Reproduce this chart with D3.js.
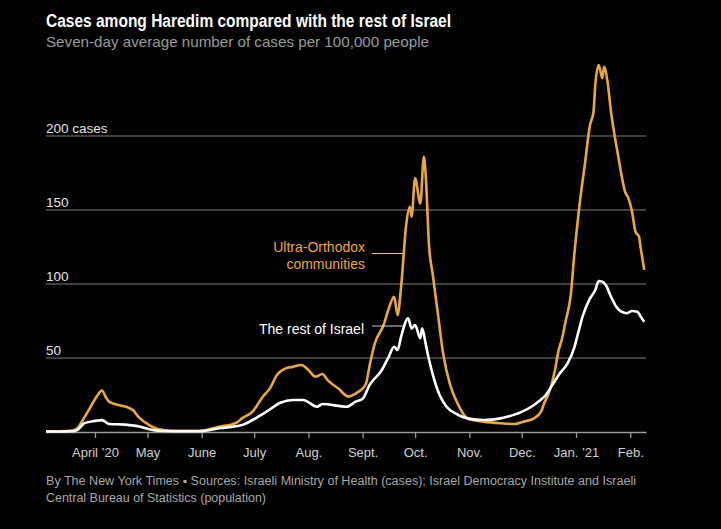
<!DOCTYPE html>
<html>
<head>
<meta charset="utf-8">
<script src="https://cdn.jsdelivr.net/npm/d3@7/dist/d3.min.js"></script>
<style>
  html, body { margin: 0; padding: 0; background: #000; }
  svg { display: block; }
</style>
</head>
<body>
<svg id="chart" width="721" height="529"></svg>
<script>
// ---------- DATA ----------
const ultraDates = ["2020-03-04","2020-03-12","2020-03-19","2020-03-22","2020-03-25","2020-03-29","2020-04-02","2020-04-05","2020-04-07","2020-04-09","2020-04-15","2020-04-19","2020-04-23","2020-04-26","2020-05-02","2020-05-07","2020-05-15","2020-05-31","2020-06-11","2020-06-21","2020-06-24","2020-06-30","2020-07-06","2020-07-10","2020-07-14","2020-07-19","2020-07-23","2020-07-28","2020-08-01","2020-08-05","2020-08-09","2020-08-12","2020-08-18","2020-08-24","2020-08-28","2020-08-31","2020-09-03","2020-09-05","2020-09-08","2020-09-13","2020-09-16","2020-09-19","2020-09-21","2020-09-23","2020-09-26","2020-09-28","2020-09-29","2020-10-01","2020-10-04","2020-10-06","2020-10-07","2020-10-09","2020-10-11","2020-10-14","2020-10-17","2020-10-21","2020-10-25","2020-10-29","2020-11-01","2020-11-09","2020-11-19","2020-11-27","2020-12-02","2020-12-08","2020-12-12","2020-12-14","2020-12-17","2020-12-20","2020-12-22","2020-12-24","2020-12-26","2020-12-29","2020-12-31","2021-01-03","2021-01-06","2021-01-09","2021-01-11","2021-01-12","2021-01-14","2021-01-16","2021-01-17","2021-01-19","2021-01-21","2021-01-23","2021-01-25","2021-01-27","2021-01-29","2021-01-31","2021-02-02","2021-02-04","2021-02-06","2021-02-07","2021-02-09"];
const ultraCases = [0.5,0.5,1.0,2.5,8,16,24,28,24,20.5,18,17,14.5,10,4.7,2,0.8,0.8,3.5,6.3,9.2,13.7,23.9,29.5,38.5,43,44,45.3,41.9,37.4,39.2,35,29.5,23.9,26,28.4,33,45,59.9,72.3,83.6,91.4,79,98.2,141,152.2,145.5,171.4,154.5,186,174.8,125.2,107.2,80.2,53.2,32,20,11.5,8.6,7,5.9,5.4,7,9.2,13.7,20,28,42,55,63,74.5,92.6,119.6,153.4,180.4,207.4,216.4,234.5,248,239,246.8,236.7,216.4,200.7,187.2,173.6,162.4,157.9,148.9,135.3,132,124.1,109.5];

const restDates = ["2020-03-04","2020-03-19","2020-03-22","2020-03-26","2020-04-01","2020-04-05","2020-04-09","2020-04-18","2020-04-27","2020-05-02","2020-05-07","2020-05-16","2020-05-31","2020-06-11","2020-06-24","2020-06-30","2020-07-08","2020-07-16","2020-07-23","2020-07-29","2020-08-06","2020-08-09","2020-08-23","2020-08-28","2020-09-01","2020-09-05","2020-09-12","2020-09-16","2020-09-19","2020-09-21","2020-09-23","2020-09-27","2020-09-29","2020-10-01","2020-10-04","2020-10-05","2020-10-07","2020-10-09","2020-10-12","2020-10-15","2020-10-19","2020-10-24","2020-10-31","2020-11-09","2020-11-19","2020-11-23","2020-11-30","2020-12-08","2020-12-11","2020-12-14","2020-12-18","2020-12-23","2020-12-27","2020-12-31","2021-01-02","2021-01-05","2021-01-09","2021-01-12","2021-01-14","2021-01-16","2021-01-18","2021-01-21","2021-01-24","2021-01-27","2021-01-30","2021-02-02","2021-02-05","2021-02-07","2021-02-09"];
const restCases = [0.3,0.5,1.5,6,7.5,8,5.4,5,3.6,1.8,0.8,0.5,0.5,2.5,4.7,8.1,13.7,19.8,21.6,21.6,17.1,18.9,17.1,20.5,22.5,31.8,41.9,51,57.6,55.4,64.4,76.8,70,72.3,63.3,70,59.9,48.6,35.1,25,17.1,12.6,9.2,8.1,9.2,10.4,13.1,18.2,21,24,31,40,46,57,66,79,90.3,95.9,102,101.6,99.3,91.4,84.7,81.3,80.2,81.8,81.3,77.9,74.5];

const monthTicks = ["2020-04-01","2020-05-01","2020-06-01","2020-07-01","2020-08-01","2020-09-01","2020-10-01","2020-11-01","2020-12-01","2021-01-01","2021-02-01"];
const monthLabels = ["April \u201920","May","June","July","Aug.","Sept.","Oct.","Nov.","Dec.","Jan. \u201921","Feb."];
const yTicks = [50, 100, 150, 200];
const yTickLabels = ["50", "100", "150", "200 cases"];

// ---------- SETUP ----------
const parse = d3.timeParse("%Y-%m-%d");
const ultra = ultraDates.map((d, i) => ({ date: parse(d), v: ultraCases[i] }));
const rest = restDates.map((d, i) => ({ date: parse(d), v: restCases[i] }));

const ORANGE = "#eaa83c";
const svg = d3.select("#chart");
svg.append("rect").attr("width", 721).attr("height", 529).attr("fill", "#000");

const x = d3.scaleTime()
  .domain([parse("2020-03-04"), parse("2021-02-10")])
  .range([46, 646]);
const y = d3.scaleLinear().domain([0, 200]).range([432, 136]);

const font = "'Liberation Sans', Arial, sans-serif";

// Title & subtitle
svg.append("text").attr("x", 46).attr("y", 27)
  .attr("fill", "#fff").attr("font-family", font).attr("font-weight", "bold")
  .attr("font-size", 17.5).attr("textLength", 405).attr("lengthAdjust", "spacingAndGlyphs")
  .text("Cases among Haredim compared with the rest of Israel");
svg.append("text").attr("x", 46).attr("y", 47)
  .attr("fill", "#9a9a9a").attr("font-family", font)
  .attr("font-size", 14.5).attr("textLength", 383).attr("lengthAdjust", "spacingAndGlyphs")
  .text("Seven-day average number of cases per 100,000 people");

// Gridlines
const grid = svg.append("g");
grid.selectAll("line").data(yTicks).join("line")
  .attr("x1", x.range()[0]).attr("x2", x.range()[1])
  .attr("y1", d => y(d)).attr("y2", d => y(d))
  .attr("stroke", "#555").attr("stroke-width", 1.3);
grid.selectAll("text").data(yTicks).join("text")
  .attr("x", 46).attr("y", d => y(d) - 3.5)
  .attr("fill", "#e6e6e6").attr("font-family", font).attr("font-size", 13.5)
  .text((d, i) => yTickLabels[i]);

// X axis
const xAxis = d3.axisBottom(x)
  .tickValues(monthTicks.map(parse))
  .tickFormat((d, i) => monthLabels[i])
  .tickSize(6).tickSizeOuter(0).tickPadding(10);
const gx = svg.append("g").attr("transform", `translate(0,${y(0)})`).call(xAxis);
gx.select(".domain").attr("stroke", "#9a9a9a").attr("stroke-width", 1.5);
gx.selectAll(".tick line").attr("stroke", "#9a9a9a").attr("stroke-width", 1.3);
gx.selectAll(".tick text").attr("fill", "#d0d0d0").attr("font-family", font).attr("font-size", 13);

// Lines
const line = d3.line().x(d => x(d.date)).y(d => y(d.v)).curve(d3.curveMonotoneX);
svg.append("path").datum(ultra).attr("d", line)
  .attr("fill", "none").attr("stroke", ORANGE).attr("stroke-width", 2.6)
  .attr("stroke-linejoin", "round");
svg.append("path").datum(rest).attr("d", line)
  .attr("fill", "none").attr("stroke", "#fff").attr("stroke-width", 2.6)
  .attr("stroke-linejoin", "round");

// Annotations
const ann = svg.append("g").attr("font-family", font).attr("font-size", 14).attr("text-anchor", "end");
ann.append("text").attr("x", 365).attr("y", 252).attr("fill", ORANGE).text("Ultra-Orthodox");
ann.append("text").attr("x", 365).attr("y", 268.5).attr("fill", ORANGE).text("communities");
ann.append("line").attr("x1", 372).attr("x2", 403).attr("y1", 253.5).attr("y2", 253.5)
  .attr("stroke", "#e9c58a").attr("stroke-width", 1);
ann.append("text").attr("x", 364).attr("y", 333.5).attr("fill", "#fff").text("The rest of Israel");
ann.append("line").attr("x1", 372).attr("x2", 403).attr("y1", 326).attr("y2", 326)
  .attr("stroke", "#cfcfcf").attr("stroke-width", 1);

// Footer
const foot = svg.append("g").attr("font-family", "'Liberation Sans Narrow', 'Liberation Sans', Arial, sans-serif")
  .attr("font-size", 12).attr("fill", "#a8a8a8");
foot.append("text").attr("x", 46).attr("y", 485)
  .attr("textLength", 590).attr("lengthAdjust", "spacingAndGlyphs")
  .text("By The New York Times  \u25AA  Sources: Israeli Ministry of Health (cases); Israel Democracy Institute and Israeli");
foot.append("text").attr("x", 46).attr("y", 502)
  .attr("textLength", 220).attr("lengthAdjust", "spacingAndGlyphs")
  .text("Central Bureau of Statistics (population)");
</script>
</body>
</html>
